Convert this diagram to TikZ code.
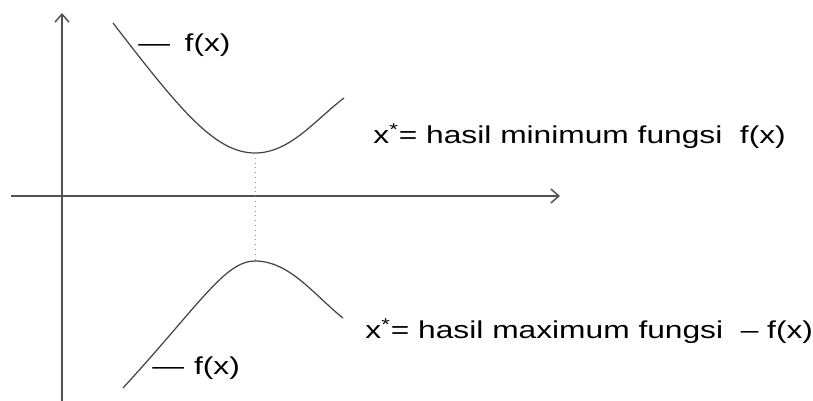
\documentclass[tikz,border=0pt]{standalone}
\usepackage{fontspec}
\usetikzlibrary{arrows.meta}
\newfontfamily\labelfont[FakeStretch=1.3]{Liberation Sans}
\newdimen\unitsize
\setlength{\unitsize}{0.5pt}

\begin{document}
\begin{tikzpicture}[x=\unitsize,y=\unitsize,baseline=0]
\tikzset{axis/.style={draw=black!68, line width=0.75pt, -{Straight Barb[length=4pt,width=7pt]}}}%
\tikzset{curve/.style={draw=black!75, line width=0.6pt}}%
\tikzset{label/.style={inner sep=0pt, anchor=base west, font=\labelfont\fontsize{12.2}{14}\selectfont}}%
\useasboundingbox (0,0) rectangle (813,401);
\coordinate (origin) at (62,205);
\coordinate (xstart) at (11,205);
\coordinate (xend) at (560,205);
\coordinate (ystart) at (62,0);
\coordinate (yend) at (62,388);
\draw[axis] (xstart) -- (xend);
\draw[axis] (ystart) -- (yend);
% f(x) with its minimum
\coordinate (minpt) at (255,248);
\draw[curve] (113,378) .. controls (180,291) and (215,248) .. (minpt)
  .. controls (290,248) and (315,281) .. (344,303);
% -f(x) with its maximum
\coordinate (maxpt) at (255,140);
\draw[curve] (123,13) .. controls (200,97) and (225,140) .. (maxpt)
  .. controls (290,140) and (315,105) .. (343,83);
\draw[dotted, draw=black!45, line width=0.4pt] (minpt) -- (maxpt);
\node[label] (ftop) at (138,349) {—\hspace{7.3pt}f(x)};
\node[label] (fbot) at (152,26) {—\hspace{5pt}f(x)};
\node[label] (mintext) at (373,257) {x\textsuperscript{*}= hasil minimum fungsi \ f(x)};
\node[label] (maxtext) at (365,62) {x\textsuperscript{*}= hasil maximum fungsi \ – f(x)};
\end{tikzpicture}
\end{document}
